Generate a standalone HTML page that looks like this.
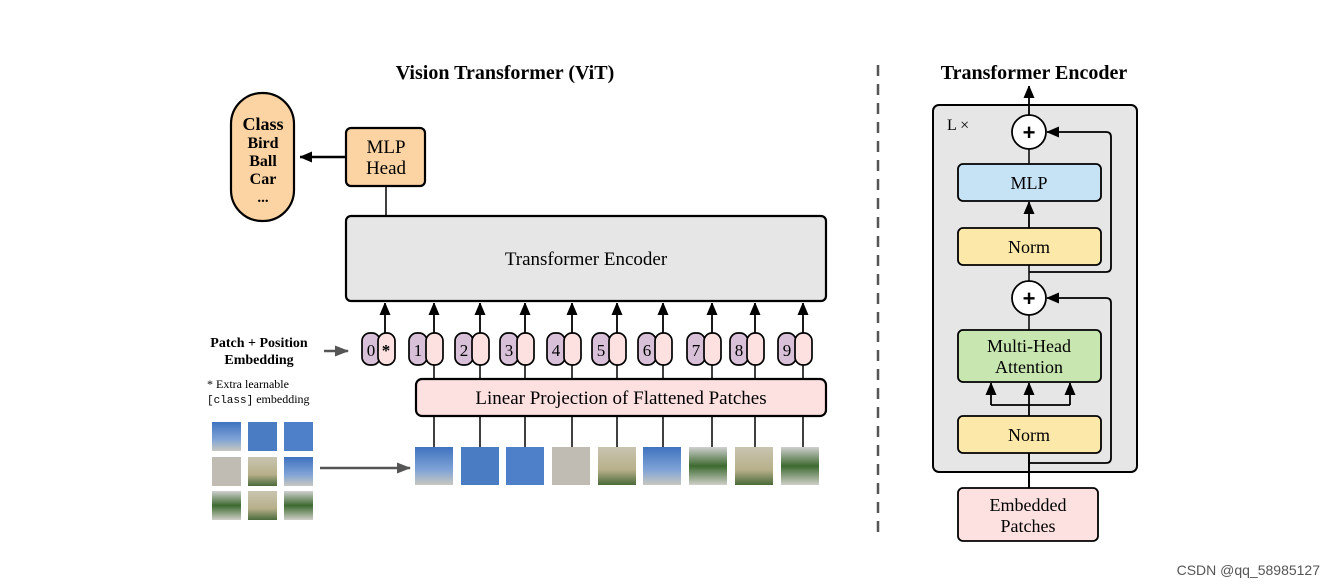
<!DOCTYPE html>
<html><head><meta charset="utf-8"><style>
html,body{margin:0;padding:0;background:#fff;}
svg{display:block;font-family:"Liberation Serif",serif;}
</style></head><body>
<svg width="1335" height="587" viewBox="0 0 1335 587" xmlns="http://www.w3.org/2000/svg">
<defs>
<marker id="ah" markerWidth="12" markerHeight="12" refX="12" refY="5.5" orient="auto" markerUnits="userSpaceOnUse">
<path d="M0,0 L13,5.5 L0,11 Z" fill="#000"/></marker>
<marker id="ag" markerWidth="14" markerHeight="12" refX="13" refY="5.5" orient="auto" markerUnits="userSpaceOnUse">
<path d="M0,0 L14,5.5 L0,11 Z" fill="#555"/></marker>
<linearGradient id="sky" x1="0" y1="0" x2="0" y2="1"><stop offset="0" stop-color="#3f73c0"/><stop offset="0.6" stop-color="#7fa3d6"/><stop offset="1" stop-color="#c8c8c0"/></linearGradient>
<linearGradient id="bld" x1="0" y1="0" x2="0" y2="1"><stop offset="0" stop-color="#c8c4b0"/><stop offset="0.6" stop-color="#b8b08a"/><stop offset="1" stop-color="#4a6a3a"/></linearGradient>
<linearGradient id="grd" x1="0" y1="0" x2="0" y2="1"><stop offset="0" stop-color="#d0d0d0"/><stop offset="0.5" stop-color="#3d6a30"/><stop offset="1" stop-color="#cfcfc8"/></linearGradient>
</defs>

<text x="505" y="79" font-size="20" font-weight="bold" text-anchor="middle">Vision Transformer (ViT)</text>
<text x="1034" y="79" font-size="20" font-weight="bold" text-anchor="middle">Transformer Encoder</text>
<line x1="878" y1="65" x2="878" y2="540" stroke="#555" stroke-width="2.5" stroke-dasharray="11,8"/>

<rect x="231" y="93" width="63" height="128" rx="31" fill="#fcd4a4" stroke="#000" stroke-width="2.2"/>
<text x="263" y="130" font-size="18" font-weight="bold" text-anchor="middle">Class</text>
<text x="263" y="148" font-size="16" font-weight="bold" text-anchor="middle">Bird</text>
<text x="263" y="166" font-size="16" font-weight="bold" text-anchor="middle">Ball</text>
<text x="263" y="184" font-size="16" font-weight="bold" text-anchor="middle">Car</text>
<text x="263" y="202" font-size="15" font-weight="bold" text-anchor="middle">...</text>

<rect x="346" y="128" width="79" height="58" rx="5" fill="#fcd4a4" stroke="#000" stroke-width="2.2"/>
<text x="386" y="153" font-size="19" text-anchor="middle">MLP</text>
<text x="386" y="174" font-size="19" text-anchor="middle">Head</text>
<line x1="346" y1="157" x2="300" y2="157" stroke="#000" stroke-width="2.5" marker-end="url(#ah)"/>
<line x1="386" y1="186" x2="386" y2="216" stroke="#000" stroke-width="1.5"/>

<rect x="346" y="216" width="480" height="85" rx="5" fill="#e6e6e6" stroke="#000" stroke-width="2.2"/>
<text x="586" y="265" font-size="19" text-anchor="middle">Transformer Encoder</text>

<g font-size="17" text-anchor="middle">
<line x1="385" y1="333" x2="385" y2="303" stroke="#000" stroke-width="1.8" marker-end="url(#ah)"/>
<rect x="362" y="333" width="18" height="32" rx="8" fill="#d8c0d8" stroke="#000" stroke-width="1.7"/>
<rect x="378" y="333" width="17" height="32" rx="8" fill="#fde0e0" stroke="#000" stroke-width="1.7"/>
<text x="371" y="356">0</text><text x="386" y="356" font-weight="bold">*</text>
</g>
<g font-size="17" text-anchor="middle">
<g transform="translate(434,0)"><line x1="0" y1="333" x2="0" y2="303" stroke="#000" stroke-width="1.8" marker-end="url(#ah)"/><line x1="0" y1="365" x2="0" y2="379" stroke="#000" stroke-width="1.5"/><rect x="-25" y="333" width="18" height="32" rx="8" fill="#d8c0d8" stroke="#000" stroke-width="1.7"/><rect x="-8" y="333" width="17" height="32" rx="8" fill="#fde0e0" stroke="#000" stroke-width="1.7"/><text x="-16" y="356">1</text></g>
<g transform="translate(480,0)"><line x1="0" y1="333" x2="0" y2="303" stroke="#000" stroke-width="1.8" marker-end="url(#ah)"/><line x1="0" y1="365" x2="0" y2="379" stroke="#000" stroke-width="1.5"/><rect x="-25" y="333" width="18" height="32" rx="8" fill="#d8c0d8" stroke="#000" stroke-width="1.7"/><rect x="-8" y="333" width="17" height="32" rx="8" fill="#fde0e0" stroke="#000" stroke-width="1.7"/><text x="-16" y="356">2</text></g>
<g transform="translate(525,0)"><line x1="0" y1="333" x2="0" y2="303" stroke="#000" stroke-width="1.8" marker-end="url(#ah)"/><line x1="0" y1="365" x2="0" y2="379" stroke="#000" stroke-width="1.5"/><rect x="-25" y="333" width="18" height="32" rx="8" fill="#d8c0d8" stroke="#000" stroke-width="1.7"/><rect x="-8" y="333" width="17" height="32" rx="8" fill="#fde0e0" stroke="#000" stroke-width="1.7"/><text x="-16" y="356">3</text></g>
<g transform="translate(572,0)"><line x1="0" y1="333" x2="0" y2="303" stroke="#000" stroke-width="1.8" marker-end="url(#ah)"/><line x1="0" y1="365" x2="0" y2="379" stroke="#000" stroke-width="1.5"/><rect x="-25" y="333" width="18" height="32" rx="8" fill="#d8c0d8" stroke="#000" stroke-width="1.7"/><rect x="-8" y="333" width="17" height="32" rx="8" fill="#fde0e0" stroke="#000" stroke-width="1.7"/><text x="-16" y="356">4</text></g>
<g transform="translate(617,0)"><line x1="0" y1="333" x2="0" y2="303" stroke="#000" stroke-width="1.8" marker-end="url(#ah)"/><line x1="0" y1="365" x2="0" y2="379" stroke="#000" stroke-width="1.5"/><rect x="-25" y="333" width="18" height="32" rx="8" fill="#d8c0d8" stroke="#000" stroke-width="1.7"/><rect x="-8" y="333" width="17" height="32" rx="8" fill="#fde0e0" stroke="#000" stroke-width="1.7"/><text x="-16" y="356">5</text></g>
<g transform="translate(663,0)"><line x1="0" y1="333" x2="0" y2="303" stroke="#000" stroke-width="1.8" marker-end="url(#ah)"/><line x1="0" y1="365" x2="0" y2="379" stroke="#000" stroke-width="1.5"/><rect x="-25" y="333" width="18" height="32" rx="8" fill="#d8c0d8" stroke="#000" stroke-width="1.7"/><rect x="-8" y="333" width="17" height="32" rx="8" fill="#fde0e0" stroke="#000" stroke-width="1.7"/><text x="-16" y="356">6</text></g>
<g transform="translate(712,0)"><line x1="0" y1="333" x2="0" y2="303" stroke="#000" stroke-width="1.8" marker-end="url(#ah)"/><line x1="0" y1="365" x2="0" y2="379" stroke="#000" stroke-width="1.5"/><rect x="-25" y="333" width="18" height="32" rx="8" fill="#d8c0d8" stroke="#000" stroke-width="1.7"/><rect x="-8" y="333" width="17" height="32" rx="8" fill="#fde0e0" stroke="#000" stroke-width="1.7"/><text x="-16" y="356">7</text></g>
<g transform="translate(755,0)"><line x1="0" y1="333" x2="0" y2="303" stroke="#000" stroke-width="1.8" marker-end="url(#ah)"/><line x1="0" y1="365" x2="0" y2="379" stroke="#000" stroke-width="1.5"/><rect x="-25" y="333" width="18" height="32" rx="8" fill="#d8c0d8" stroke="#000" stroke-width="1.7"/><rect x="-8" y="333" width="17" height="32" rx="8" fill="#fde0e0" stroke="#000" stroke-width="1.7"/><text x="-16" y="356">8</text></g>
<g transform="translate(803,0)"><line x1="0" y1="333" x2="0" y2="303" stroke="#000" stroke-width="1.8" marker-end="url(#ah)"/><line x1="0" y1="365" x2="0" y2="379" stroke="#000" stroke-width="1.5"/><rect x="-25" y="333" width="18" height="32" rx="8" fill="#d8c0d8" stroke="#000" stroke-width="1.7"/><rect x="-8" y="333" width="17" height="32" rx="8" fill="#fde0e0" stroke="#000" stroke-width="1.7"/><text x="-16" y="356">9</text></g>
</g>

<text x="259" y="347" font-size="14" font-weight="bold" text-anchor="middle">Patch + Position</text>
<text x="259" y="364" font-size="14" font-weight="bold" text-anchor="middle">Embedding</text>
<line x1="324" y1="351" x2="348" y2="351" stroke="#555" stroke-width="2.5" marker-end="url(#ag)"/>
<text x="207" y="388" font-size="12">* Extra learnable</text>
<text x="207" y="403" font-size="12"><tspan font-family="Liberation Mono" font-size="11">[class]</tspan> embedding</text>

<rect x="416" y="379" width="410" height="37" rx="6" fill="#fde0e0" stroke="#000" stroke-width="2.2"/>
<text x="621" y="404" font-size="19" text-anchor="middle">Linear Projection of Flattened Patches</text>

<g stroke="#000" stroke-width="1.5">
<line x1="434" y1="416" x2="434" y2="447"/><line x1="480" y1="416" x2="480" y2="447"/><line x1="525" y1="416" x2="525" y2="447"/><line x1="572" y1="416" x2="572" y2="447"/><line x1="617" y1="416" x2="617" y2="447"/><line x1="663" y1="416" x2="663" y2="447"/><line x1="712" y1="416" x2="712" y2="447"/><line x1="755" y1="416" x2="755" y2="447"/><line x1="803" y1="416" x2="803" y2="447"/>
</g>
<rect x="415" y="447" width="38" height="38" fill="url(#sky)"/>
<rect x="461" y="447" width="38" height="38" fill="#4a7cc4"/>
<rect x="506" y="447" width="38" height="38" fill="#4d80c8"/>
<rect x="552" y="447" width="38" height="38" fill="#c0bcb4"/>
<rect x="598" y="447" width="38" height="38" fill="url(#bld)"/>
<rect x="643" y="447" width="38" height="38" fill="url(#sky)"/>
<rect x="689" y="447" width="38" height="38" fill="url(#grd)"/>
<rect x="735" y="447" width="38" height="38" fill="url(#bld)"/>
<rect x="781" y="447" width="38" height="38" fill="url(#grd)"/>
<line x1="320" y1="468" x2="410" y2="468" stroke="#555" stroke-width="2.5" marker-end="url(#ag)"/>
<rect x="212" y="422" width="29" height="29" fill="url(#sky)"/>
<rect x="248" y="422" width="29" height="29" fill="#4a7cc4"/>
<rect x="284" y="422" width="29" height="29" fill="#4d80c8"/>
<rect x="212" y="457" width="29" height="29" fill="#c0bcb4"/>
<rect x="248" y="457" width="29" height="29" fill="url(#bld)"/>
<rect x="284" y="457" width="29" height="29" fill="url(#sky)"/>
<rect x="212" y="491" width="29" height="29" fill="url(#grd)"/>
<rect x="248" y="491" width="29" height="29" fill="url(#bld)"/>
<rect x="284" y="491" width="29" height="29" fill="url(#grd)"/>

<rect x="933" y="105" width="204" height="367" rx="6" fill="#e6e6e6" stroke="#000" stroke-width="2"/>
<text x="947" y="130" font-size="16">L ×</text>
<line x1="1029" y1="115" x2="1029" y2="86" stroke="#000" stroke-width="1.8" marker-end="url(#ah)"/>
<line x1="1029" y1="149" x2="1029" y2="164" stroke="#000" stroke-width="1.5"/>
<circle cx="1029" cy="132" r="17" fill="#fff" stroke="#000" stroke-width="1.8"/>
<text x="1029" y="140" font-size="22" font-weight="bold" text-anchor="middle" font-family="Liberation Sans">+</text>
<rect x="958" y="164" width="143" height="37" rx="5" fill="#c6e2f5" stroke="#000" stroke-width="1.8"/>
<text x="1029" y="189" font-size="18" text-anchor="middle">MLP</text>
<line x1="1029" y1="228" x2="1029" y2="202" stroke="#000" stroke-width="1.8" marker-end="url(#ah)"/>
<rect x="958" y="228" width="143" height="37" rx="5" fill="#fce8a8" stroke="#000" stroke-width="1.8"/>
<text x="1029" y="253" font-size="18" text-anchor="middle">Norm</text>
<line x1="1029" y1="265" x2="1029" y2="281" stroke="#000" stroke-width="1.5"/>
<path d="M1029,272 H1106 Q1111,272 1111,267 V137 Q1111,132 1106,132 H1047" fill="none" stroke="#000" stroke-width="1.8" marker-end="url(#ah)"/>
<circle cx="1029" cy="298" r="17" fill="#fff" stroke="#000" stroke-width="1.8"/>
<text x="1029" y="306" font-size="22" font-weight="bold" text-anchor="middle" font-family="Liberation Sans">+</text>
<line x1="1029" y1="315" x2="1029" y2="330" stroke="#000" stroke-width="1.5"/>
<path d="M1029,463 H1106 Q1111,463 1111,458 V303 Q1111,298 1106,298 H1047" fill="none" stroke="#000" stroke-width="1.8" marker-end="url(#ah)"/>
<rect x="958" y="330" width="143" height="52" rx="5" fill="#c8e6b0" stroke="#000" stroke-width="1.8"/>
<text x="1029" y="352" font-size="18" text-anchor="middle">Multi-Head</text>
<text x="1029" y="373" font-size="18" text-anchor="middle">Attention</text>
<path d="M1029,416 V405 M991,405 H1070" stroke="#000" stroke-width="1.8" fill="none"/>
<line x1="991" y1="405" x2="991" y2="383" stroke="#000" stroke-width="1.8" marker-end="url(#ah)"/>
<line x1="1029" y1="405" x2="1029" y2="383" stroke="#000" stroke-width="1.8" marker-end="url(#ah)"/>
<line x1="1070" y1="405" x2="1070" y2="383" stroke="#000" stroke-width="1.8" marker-end="url(#ah)"/>
<rect x="958" y="416" width="143" height="37" rx="5" fill="#fce8a8" stroke="#000" stroke-width="1.8"/>
<text x="1029" y="441" font-size="18" text-anchor="middle">Norm</text>
<line x1="1029" y1="488" x2="1029" y2="453" stroke="#000" stroke-width="2"/>
<rect x="958" y="488" width="140" height="53" rx="5" fill="#fde0e0" stroke="#000" stroke-width="1.8"/>
<text x="1028" y="511" font-size="18" text-anchor="middle">Embedded</text>
<text x="1028" y="532" font-size="18" text-anchor="middle">Patches</text>

<text x="1320" y="575" font-size="14" fill="#555" text-anchor="end" font-family="Liberation Sans">CSDN @qq_58985127</text>
</svg>
</body></html>
